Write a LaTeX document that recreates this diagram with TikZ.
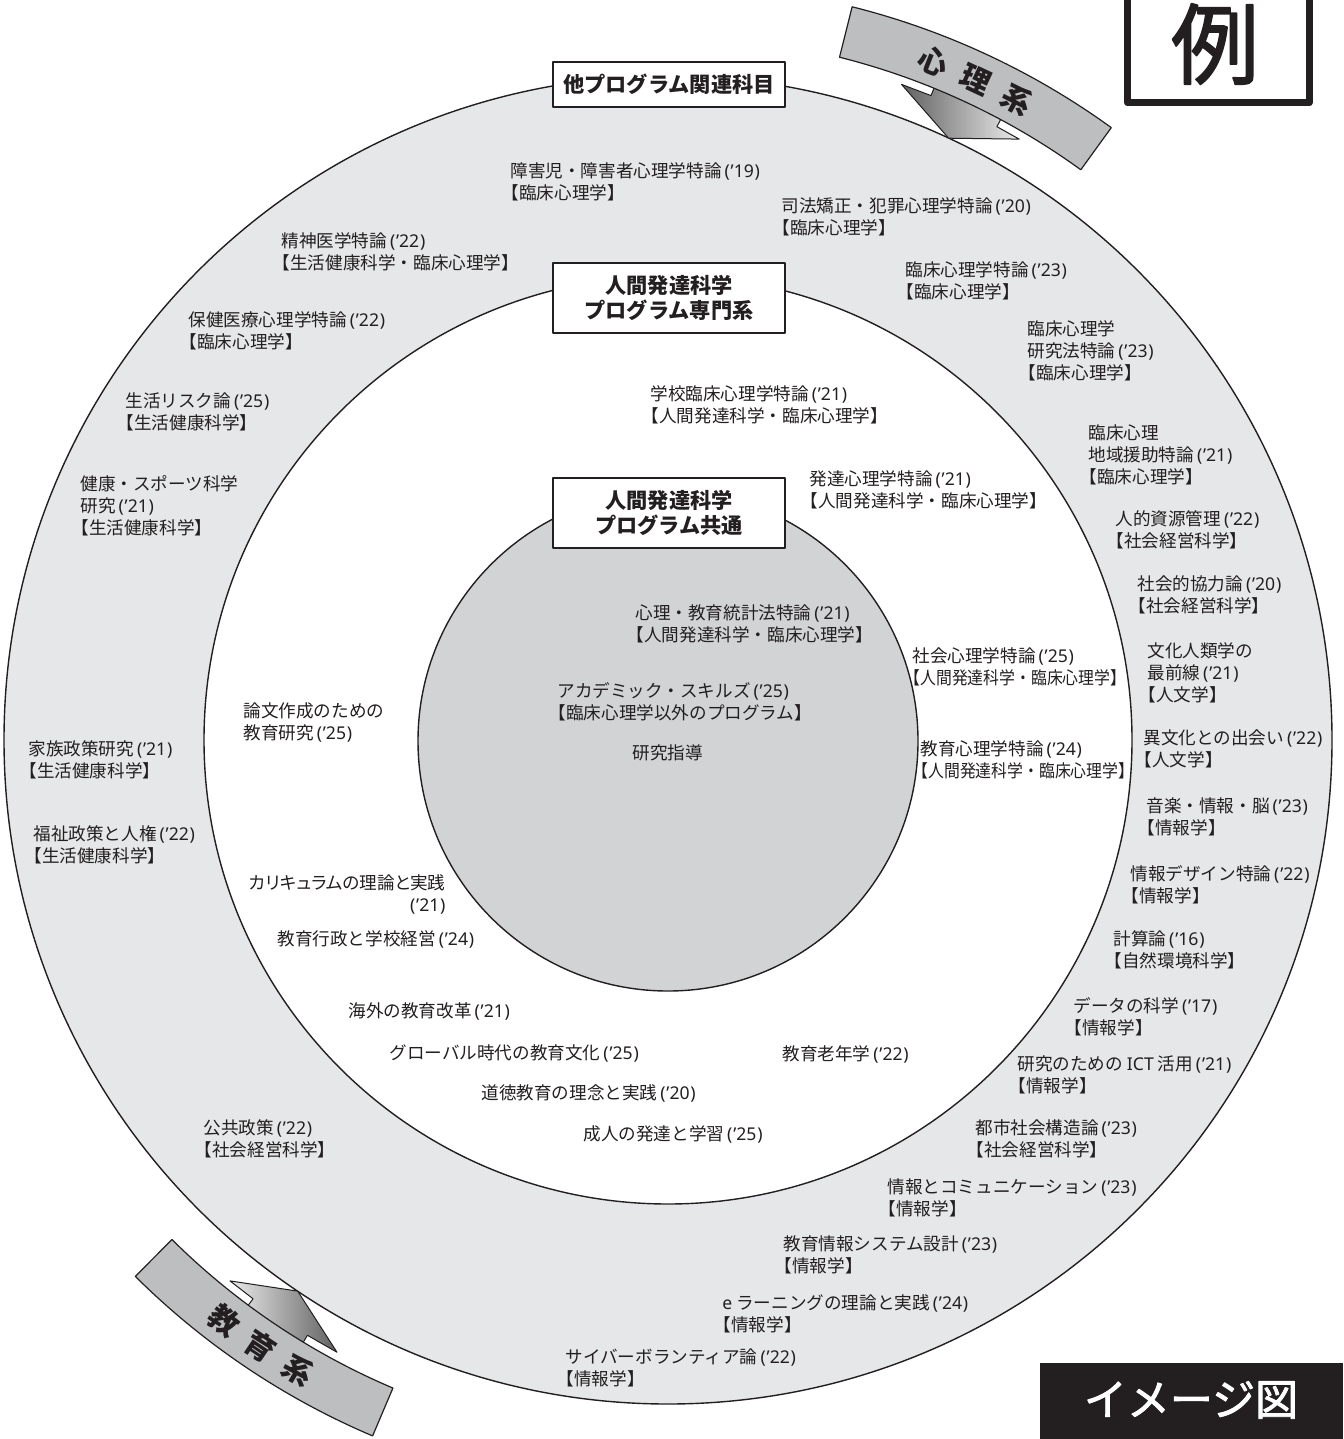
\documentclass[tikz,border=0pt]{standalone}
\usepackage{fontspec}
\usepackage{graphicx}
\setmainfont{Noto Sans CJK JP}
\newfontfamily\latf{Noto Sans}
\newfontfamily\hwf[RawFeature=+halt]{Noto Sans CJK JP}
\newfontfamily\pf[RawFeature=+palt]{Noto Sans CJK JP}
\newfontfamily\medf[FakeBold=2]{Noto Sans CJK JP}
\newcommand\LB{{\hwf 【}}
\newcommand\RB{{\hwf 】}}
\newcommand\yr[1]{{\latf\kern1.5pt(\kern0.4pt’#1\kern0.4pt)}}
\usetikzlibrary{calc}
\definecolor{ringgray}{HTML}{E6E7E8}
\definecolor{coregray}{HTML}{D1D3D4}
\definecolor{bandgray}{HTML}{BCBEC0}
\definecolor{ink}{HTML}{231F20}
\tikzset{
  txt/.style={anchor=north west, inner sep=0pt, align=left, text=ink, font=\fontsize{8.8}{11}\selectfont},
  lbl/.style={draw=ink, line width=1.3pt, fill=white, minimum width=116pt, inner sep=0pt, align=center, text=ink, font=\fontsize{10.6}{12.5}\selectfont\bfseries},
  ring/.style={draw=ink, line width=0.7pt},
  band/.style={draw=ink, line width=0.6pt, fill=bandgray},
  bandtxt/.style={inner sep=0pt, text=ink, font=\fontsize{15}{15}\selectfont\bfseries},
  blockarrow/.style={draw=ink, line width=0.5pt}
}
\begin{document}
\begin{tikzpicture}[x=0.5pt,y=0.5pt,line join=round]
\useasboundingbox (0,0) rectangle (1343,-1439);
\coordinate (C) at (668,-740);
% rings
\fill[ringgray] (C) circle[radius=664];
\draw[ring] (C) circle[radius=664];
\draw[ring, fill=white] (C) circle[radius=464];
\draw[ring, fill=coregray] (668,-741) circle[radius=250];

% arrows
\draw[blockarrow, left color=black!62, right color=black!8]
  ($(C)+(65:664)$) -- ($(C)+(59.7:696)$) -- ($(C)+(61.8:696)$) -- ($(C)+(61.8:725)$)
  -- ($(C)+(67.8:725)$) -- ($(C)+(67.8:696)$) -- ($(C)+(70.4:696)$) -- cycle;
\draw[blockarrow, left color=black!8, right color=black!62]
  ($(C)+(-123.9:664)$) -- ($(C)+(-118.4:696)$) -- ($(C)+(-121.2:696)$) -- ($(C)+(-121.2:725)$)
  -- ($(C)+(-126.6:725)$) -- ($(C)+(-126.6:696)$) -- ($(C)+(-129.0:696)$) -- cycle;

% bands
\draw[band] ($(C)+(54.1:704)$) arc[start angle=54.1, end angle=75.9, radius=704]
  -- ($(C)+(75.9:756)$) arc[start angle=75.9, end angle=54.1, radius=756] -- cycle;
\draw[band] ($(C)+(-134.8:704)$) arc[start angle=-134.8, end angle=-113, radius=704]
  -- ($(C)+(-113:756)$) arc[start angle=-113, end angle=-134.8, radius=756] -- cycle;
\node[bandtxt, rotate=-21.4] (p1) at ($(C)+(68.6:729)$) {心};
\node[bandtxt, rotate=-25.0] (p2) at ($(C)+(65.0:729)$) {理};
\node[bandtxt, rotate=-28.6] (p3) at ($(C)+(61.4:729)$) {系};
\node[bandtxt, rotate=-37.4] (e1) at ($(C)+(-127.4:731)$) {教};
\node[bandtxt, rotate=-33.9] (e2) at ($(C)+(-123.9:731)$) {育};
\node[bandtxt, rotate=-30.4] (e3) at ($(C)+(-120.4:731)$) {系};

% label boxes
\node[lbl, minimum height=22.5pt] (b1) at (669,-84.5) {他プログラム関連科目};
\node[lbl, minimum height=35pt] (b2) at (669,-298) {人間発達科学\\プログラム専門系};
\node[lbl, minimum height=35pt] (b3) at (669,-513) {人間発達科学\\プログラム共通};

% 例 box
\draw[ink, line width=3.5pt] (1127.5,20) -- (1127.5,-103) -- (1309,-103) -- (1309,20);
\node[inner sep=0pt, text=ink, font=\fontsize{44}{45}\medf] (rei) at (1215,-44) {例};

% イメージ図
\fill[ink] (1040,-1363) rectangle (1343,-1439);
\node[inner sep=0pt, text=white, font=\fontsize{21.5}{22}\medf] (img) at (1191,-1400) {イメージ図};

% outer ring texts
\node[txt] (t1) at (510,-162) {障害児・障害者心理学特論\yr{19}\\\LB 臨床心理学\RB};
\node[txt] (t2) at (781,-197) {司法矯正・犯罪心理学特論\yr{20}\\\LB 臨床心理学\RB};
\node[txt] (t3) at (281,-232) {精神医学特論\yr{22}\\\LB 生活健康科学・臨床心理学\RB};
\node[txt] (t4) at (905,-261) {臨床心理学特論\yr{23}\\\LB 臨床心理学\RB};
\node[txt] (t5) at (188,-311) {保健医療心理学特論\yr{22}\\\LB 臨床心理学\RB};
\node[txt] (t6) at (1027,-320) {臨床心理学\\研究法特論\yr{23}\\\LB 臨床心理学\RB};
\node[txt] (t7) at (125,-392) {生活リスク論\yr{25}\\\LB 生活健康科学\RB};
\node[txt] (t8) at (1088,-424) {臨床心理\\地域援助特論\yr{21}\\\LB 臨床心理学\RB};
\node[txt] (t9) at (80,-475) {健康・スポーツ科学\\研究\yr{21}\\\LB 生活健康科学\RB};
\node[txt] (t10) at (1115,-510) {人的資源管理\yr{22}\\\LB 社会経営科学\RB};
\node[txt] (t11) at (1137,-575) {社会的協力論\yr{20}\\\LB 社会経営科学\RB};
\node[txt] (t12) at (1147,-642) {文化人類学の\\最前線\yr{21}\\\LB 人文学\RB};
\node[txt] (t13) at (1143,-729) {異文化との出会い\yr{22}\\\LB 人文学\RB};
\node[txt] (t14) at (28,-740) {家族政策研究\yr{21}\\\LB 生活健康科学\RB};
\node[txt] (t15) at (1146,-797) {音楽・情報・脳\yr{23}\\\LB 情報学\RB};
\node[txt] (t16) at (33,-825) {福祉政策と人権\yr{22}\\\LB 生活健康科学\RB};
\node[txt] (t17) at (1130,-865) {情報デザイン特論\yr{22}\\\LB 情報学\RB};
\node[txt] (t18) at (1113,-930) {計算論\yr{16}\\\LB 自然環境科学\RB};
\node[txt] (t19) at (1073,-997) {データの科学\yr{17}\\\LB 情報学\RB};
\node[txt] (t20) at (1017,-1055) {研究のための {\latf ICT} 活用\yr{21}\\\LB 情報学\RB};
\node[txt] (t21) at (203,-1119) {公共政策\yr{22}\\\LB 社会経営科学\RB};
\node[txt] (t22) at (975,-1119) {都市社会構造論\yr{23}\\\LB 社会経営科学\RB};
\node[txt] (t23) at (887,-1178) {情報とコミュニケーション\yr{23}\\\LB 情報学\RB};
\node[txt] (t24) at (783,-1235) {教育情報システム設計\yr{23}\\\LB 情報学\RB};
\node[txt] (t25) at (722,-1294) {{\latf e} ラーニングの理論と実践\yr{24}\\\LB 情報学\RB};
\node[txt] (t26) at (565,-1348) {サイバーボランティア論\yr{22}\\\LB 情報学\RB};

% middle ring texts
\node[txt] (m1) at (650,-385) {学校臨床心理学特論\yr{21}\\\LB 人間発達科学・臨床心理学\RB};
\node[txt] (m2) at (809,-470) {発達心理学特論\yr{21}\\\LB 人間発達科学・臨床心理学\RB};
\node[txt] (m3) at (912,-647) {社会心理学特論\yr{25}\\\scalebox{0.9}[1]{\LB 人間発達科学・臨床心理学\RB}};
\node[txt] (m4) at (243,-702) {論文作成のための\\教育研究\yr{25}};
\node[txt] (m5) at (920,-740) {教育心理学特論\yr{24}\\\scalebox{0.9}[1]{\LB 人間発達科学・臨床心理学\RB}};
\node[txt, align=right] (m6) at (249,-874) {{\pf カリキュラムの理論と実践}\\\yr{21}};
\node[txt] (m7) at (277,-930) {教育行政と学校経営\yr{24}};
\node[txt] (m8) at (348,-1002) {海外の教育改革\yr{21}};
\node[txt] (m9) at (389,-1044) {グローバル時代の教育文化\yr{25}};
\node[txt] (m10) at (782,-1045) {教育老年学\yr{22}};
\node[txt] (m11) at (481,-1084) {道徳教育の理念と実践\yr{20}};
\node[txt] (m12) at (583,-1125) {成人の発達と学習\yr{25}};

% inner circle texts
\node[txt] (c1) at (635,-604) {心理・教育統計法特論\yr{21}\\\LB 人間発達科学・臨床心理学\RB};
\node[txt] (c2) at (557,-682) {アカデミック・スキルズ\yr{25}\\\LB 臨床心理学以外のプログラム\RB};
\node[txt] (c3) at (632,-744) {研究指導};
\end{tikzpicture}
\end{document}
